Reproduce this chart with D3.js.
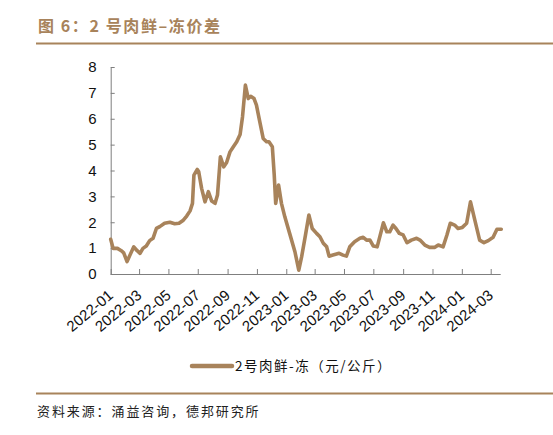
<!DOCTYPE html>
<html>
<head>
<meta charset="utf-8">
<title>图6 2号肉鲜-冻价差</title>
<script src="https://cdn.jsdelivr.net/npm/d3@7"></script>
<style>
body { margin: 0; background: #ffffff; }
svg { display: block; }
</style>
</head>
<body>
<script>

// weekly price gap
var dates = [
  "2022-01-01","2022-01-06","2022-01-15","2022-01-23","2022-01-28","2022-02-04","2022-02-10","2022-02-18",
  "2022-02-25","2022-03-03","2022-03-09","2022-03-16","2022-03-23","2022-03-30","2022-04-06","2022-04-13",
  "2022-04-23","2022-05-04","2022-05-14","2022-05-23","2022-06-01","2022-06-08","2022-06-15","2022-06-20",
  "2022-06-23","2022-06-30","2022-07-03","2022-07-09","2022-07-16","2022-07-23","2022-07-30","2022-08-06",
  "2022-08-11","2022-08-17","2022-08-24","2022-08-30","2022-09-06","2022-09-13","2022-09-20","2022-09-27",
  "2022-10-02","2022-10-08","2022-10-14","2022-10-19","2022-10-26","2022-10-31","2022-11-07","2022-11-14",
  "2022-11-21","2022-11-26","2022-12-03","2022-12-07","2022-12-10","2022-12-16","2022-12-22","2022-12-29",
  "2023-01-08","2023-01-19","2023-01-27","2023-02-02","2023-02-10","2023-02-17","2023-02-24","2023-03-05",
  "2023-03-12","2023-03-19","2023-03-26","2023-03-31","2023-04-08","2023-04-21","2023-04-29","2023-05-06",
  "2023-05-13","2023-05-23","2023-06-03","2023-06-10","2023-06-17","2023-06-24","2023-07-01","2023-07-09",
  "2023-07-22","2023-07-29","2023-08-04","2023-08-11","2023-08-17","2023-08-24","2023-09-01","2023-09-09",
  "2023-09-18","2023-09-29","2023-10-06","2023-10-16","2023-10-26","2023-11-06","2023-11-13","2023-11-23",
  "2023-12-01","2023-12-08","2023-12-17","2023-12-24","2024-01-02","2024-01-11","2024-01-19","2024-01-28",
  "2024-02-07","2024-02-16","2024-02-25","2024-03-06","2024-03-14","2024-03-23"
];
var gap = [
  1.34,0.99,0.99,0.90,0.82,0.48,0.73,1.05,
  0.90,0.80,0.99,1.08,1.29,1.38,1.76,1.83,
  1.96,2.00,1.94,1.96,2.08,2.24,2.44,2.73,
  3.82,4.04,3.95,3.31,2.79,3.18,2.82,2.73,
  3.05,4.53,4.14,4.31,4.72,4.92,5.11,5.39,
  6.07,7.30,6.78,6.87,6.78,6.53,5.88,5.24,
  5.11,5.11,4.92,3.82,2.73,3.44,2.73,2.21,
  1.57,0.86,0.15,0.67,1.51,2.28,1.76,1.57,
  1.44,1.19,1.05,0.69,0.73,0.80,0.73,0.69,
  1.05,1.25,1.38,1.42,1.31,1.31,1.08,1.05,
  1.98,1.63,1.63,1.89,1.76,1.57,1.51,1.21,
  1.31,1.38,1.31,1.12,1.03,1.03,1.12,1.05,
  1.51,1.96,1.89,1.76,1.80,1.96,2.79,2.08,
  1.31,1.21,1.29,1.42,1.73,1.73
];
var tickMonths = ["2022-01","2022-03","2022-05","2022-07","2022-09","2022-11","2023-01",
                  "2023-03","2023-05","2023-07","2023-09","2023-11","2024-01","2024-03"];
var yTicks = [0,1,2,3,4,5,6,7,8];

var title = "图 6：2 号肉鲜–冻价差";
var seriesName = "2号肉鲜-冻（元/公斤）";
var source = "资料来源：涌益咨询，德邦研究所";

var brown = "#a8835b";
var W = 553, H = 435;
var parse = d3.timeParse("%Y-%m-%d");
var parseM = d3.timeParse("%Y-%m");

var data = dates.map(function(d, i) { return { date: parse(d), val: gap[i] }; });

var svg = d3.select("body").append("svg")
  .attr("width", W)
  .attr("height", H);

svg.append("rect").attr("width", W).attr("height", H).attr("fill", "#fff");

// title + rules
svg.append("text")
  .attr("x", 38)
  .attr("y", 32)
  .style("font-family", "'Noto Sans CJK SC', sans-serif")
  .style("font-weight", "bold")
  .style("font-size", "16px")
  .style("letter-spacing", "1.6px")
  .style("fill", brown)
  .text(title);

svg.append("line")
  .attr("x1", 36).attr("x2", W)
  .attr("y1", 43.5).attr("y2", 43.5)
  .style("stroke", brown).style("stroke-width", 2);

svg.append("line")
  .attr("x1", 36).attr("x2", W)
  .attr("y1", 393.5).attr("y2", 393.5)
  .style("stroke", brown).style("stroke-width", 2);

svg.append("text")
  .attr("x", 37)
  .attr("y", 416)
  .style("font-family", "'Noto Sans CJK SC', sans-serif")
  .style("font-size", "13px")
  .style("letter-spacing", "1.9px")
  .style("fill", "#222")
  .text(source);

// scales
var x = d3.scaleTime()
  .domain([parseM("2022-01"), parseM("2024-03")])
  .range([110.7, 490.7]);
var xEnd = 500.7;

var y = d3.scaleLinear()
  .domain([0, 8])
  .range([274, 67]);

var axisColor = "#7f7f7f";

// x axis
var gx = svg.append("g")
  .attr("transform", "translate(0,274)")
  .call(d3.axisBottom(x)
    .tickValues(tickMonths.map(parseM))
    .tickFormat(d3.timeFormat("%Y-%m"))
    .tickSize(-5)
    .tickSizeOuter(0));
gx.select(".domain").remove();
gx.append("line")
  .attr("x1", x.range()[0]).attr("x2", xEnd)
  .attr("y1", 0.5).attr("y2", 0.5)
  .style("stroke", axisColor);
gx.selectAll(".tick line").style("stroke", axisColor);
gx.selectAll(".tick text")
  .style("font-family", "'Liberation Sans', Arial, sans-serif")
  .style("font-size", "15px")
  .style("fill", "#111")
  .attr("text-anchor", "end")
  .attr("dy", null)
  .attr("y", 0)
  .attr("transform", "translate(3,23) rotate(-40)");

// y axis
var gy = svg.append("g")
  .attr("transform", "translate(110.7,0)")
  .call(d3.axisLeft(y)
    .tickValues(yTicks)
    .tickSize(-4)
    .tickSizeOuter(0)
    .tickPadding(14));
gy.select(".domain").style("stroke", axisColor);
gy.selectAll(".tick line").style("stroke", axisColor);
gy.selectAll(".tick text")
  .style("font-family", "'Liberation Sans', Arial, sans-serif")
  .style("font-size", "15px")
  .style("fill", "#111");

// series line
var line = d3.line()
  .x(function(d) { return x(d.date); })
  .y(function(d) { return y(d.val); });

svg.append("path")
  .datum(data)
  .attr("d", line)
  .style("fill", "none")
  .style("stroke", brown)
  .style("stroke-width", 3.6)
  .style("stroke-linejoin", "round")
  .style("stroke-linecap", "round");

// legend
svg.append("line")
  .attr("x1", 192).attr("x2", 232)
  .attr("y1", 366).attr("y2", 366)
  .style("stroke", brown)
  .style("stroke-width", 4.5)
  .style("stroke-linecap", "round");

svg.append("text")
  .attr("x", 235)
  .attr("y", 371)
  .style("font-family", "'Noto Sans CJK SC', sans-serif")
  .style("font-size", "13.5px")
  .style("letter-spacing", "1.5px")
  .style("fill", "#111")
  .text(seriesName);

</script>
</body>
</html>
